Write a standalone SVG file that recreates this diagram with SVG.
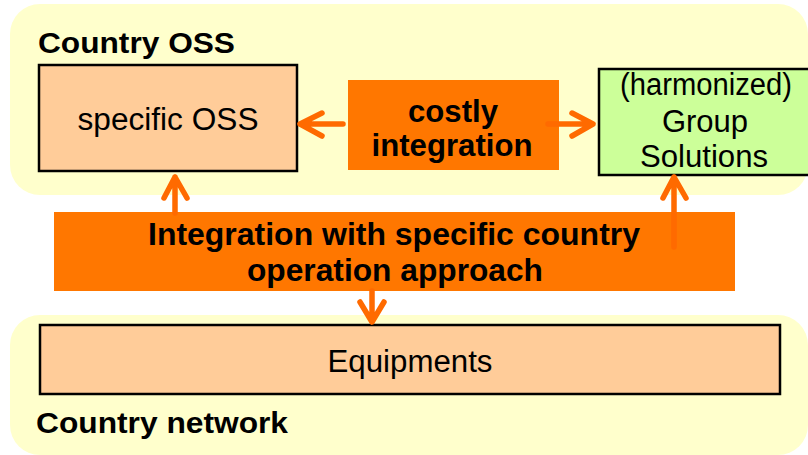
<svg xmlns="http://www.w3.org/2000/svg" width="808" height="455" viewBox="0 0 808 455">
  <style>
    .panel { fill: #FFFFCC; }
    .box { stroke: #000000; stroke-width: 2.5; }
    .peach { fill: #FFCC99; }
    .green { fill: #CCFF99; }
    .orange { fill: #FF7700; }
    .t { font-family: "Liberation Sans", Arial, sans-serif; fill: #000000; }
    .reg { font-size: 31px; }
    .bold { font-weight: bold; font-size: 29px; }
    .big { font-size: 31px; }
    .conn { stroke: #FF6A00; stroke-width: 5.5; fill: none; stroke-linecap: round; stroke-linejoin: round; }
  </style>
  <rect width="808" height="455" fill="#FFFFFF"/>

  <g id="country-oss-panel">
    <rect class="panel" x="10" y="4" width="798" height="191" rx="30"/>
    <text class="t bold" x="38" y="53" textLength="197" lengthAdjust="spacingAndGlyphs">Country OSS</text>
  </g>

  <g id="country-network-panel">
    <rect class="panel" x="10" y="315" width="798" height="140" rx="30"/>
    <text class="t bold" x="36" y="433" textLength="252" lengthAdjust="spacingAndGlyphs">Country network</text>
  </g>

  <g id="specific-oss">
    <rect class="box peach" x="39" y="65" width="258" height="106"/>
    <text class="t reg" x="168" y="130" text-anchor="middle" textLength="181" lengthAdjust="spacingAndGlyphs">specific OSS</text>
  </g>

  <g id="costly-integration">
    <rect class="orange" x="348" y="80" width="211" height="90"/>
    <text class="t bold big" x="453" y="122" text-anchor="middle" textLength="90" lengthAdjust="spacingAndGlyphs">costly</text>
    <text class="t bold big" x="452" y="156" text-anchor="middle" textLength="161" lengthAdjust="spacingAndGlyphs">integration</text>
  </g>

  <g id="group-solutions">
    <rect class="box green" x="599" y="69" width="230" height="106"/>
    <text class="t reg" x="706" y="95" text-anchor="middle" textLength="172" lengthAdjust="spacingAndGlyphs">(harmonized)</text>
    <text class="t reg" x="705" y="132" text-anchor="middle">Group</text>
    <text class="t reg" x="704" y="167" text-anchor="middle" textLength="128" lengthAdjust="spacingAndGlyphs">Solutions</text>
  </g>

  <g id="integration-approach">
    <rect class="orange" x="54" y="212" width="681" height="79"/>
    <text class="t bold big" x="394" y="245" text-anchor="middle" textLength="492" lengthAdjust="spacingAndGlyphs">Integration with specific country</text>
    <text class="t bold big" x="395" y="281" text-anchor="middle" textLength="296" lengthAdjust="spacingAndGlyphs">operation approach</text>
  </g>

  <g id="equipments">
    <rect class="box peach" x="40" y="325" width="740" height="69"/>
    <text class="t reg" x="410" y="372" text-anchor="middle" textLength="165" lengthAdjust="spacingAndGlyphs">Equipments</text>
  </g>

  <g id="connectors">
    <path class="conn" d="M343 124 L300 124 M322 113 L300 124 L322 136"/>
    <path class="conn" d="M548 124 L593 124 M572 113 L593 124 L572 136"/>
    <path class="conn" d="M175 213 L175 177 M164 198 L175 177 L187 198"/>
    <path class="conn" d="M674 247 L674 177 M663 198 L674 177 L686 198"/>
    <path class="conn" d="M372 291 L372 322 M360 302 L372 322 L384 302"/>
  </g>
</svg>
